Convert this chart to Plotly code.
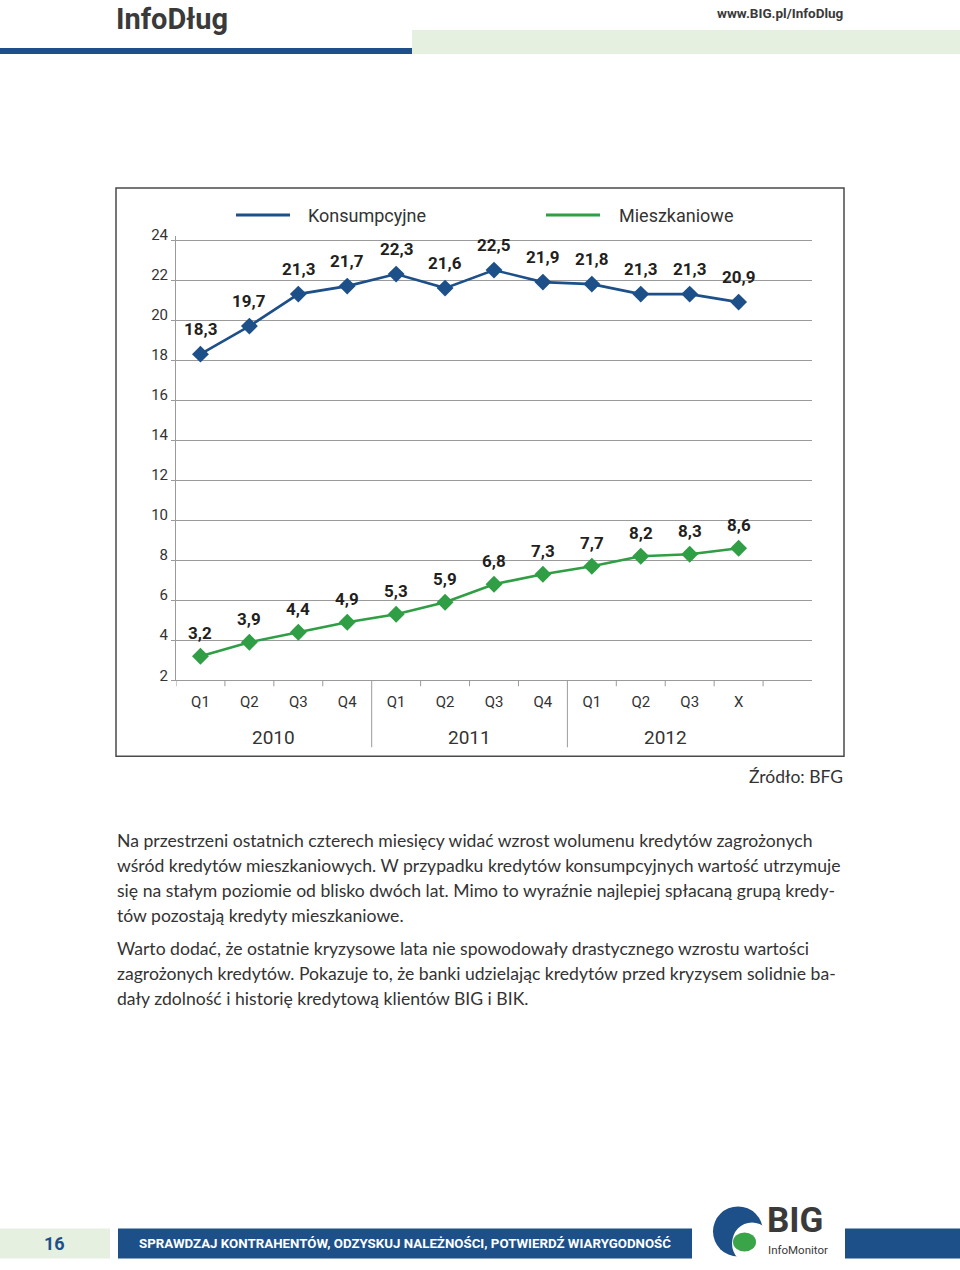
import plotly.graph_objects as go

# ---------------- data ----------------
quarters = ["Q1", "Q2", "Q3", "Q4", "Q1", "Q2", "Q3", "Q4", "Q1", "Q2", "Q3", "X"]
years = ["2010", "2011", "2012"]
konsumpcyjne = [18.3, 19.7, 21.3, 21.7, 22.3, 21.6, 22.5, 21.9, 21.8, 21.3, 21.3, 20.9]
mieszkaniowe = [3.2, 3.9, 4.4, 4.9, 5.3, 5.9, 6.8, 7.3, 7.7, 8.2, 8.3, 8.6]
y_ticks = [2, 4, 6, 8, 10, 12, 14, 16, 18, 20, 22, 24]

paragraph1 = [
    "Na przestrzeni ostatnich czterech miesięcy widać wzrost wolumenu kredytów zagrożonych",
    "wśród kredytów mieszkaniowych. W przypadku kredytów konsumpcyjnych wartość utrzymuje",
    "się na stałym poziomie od blisko dwóch lat. Mimo to wyraźnie najlepiej spłacaną grupą kredy-",
    "tów pozostają kredyty mieszkaniowe.",
]
paragraph2 = [
    "Warto dodać, że ostatnie kryzysowe lata nie spowodowały drastycznego wzrostu wartości",
    "zagrożonych kredytów. Pokazuje to, że banki udzielając kredytów przed kryzysem solidnie ba-",
    "dały zdolność i historię kredytową klientów BIG i BIK.",
]

# ---------------- styling ----------------
W, H = 960, 1270
BLUE = "#1d4f88"
GREEN = "#2f9e44"
GRID = "#9a9a9a"
TXT = "#333333"
COND = "Roboto, Liberation Sans Narrow, sans-serif"
BODY = "Lato, Open Sans, sans-serif"
# vertical page-layout calibration (target pixel -> figure pixel)
V_OFF, V_SCALE = 10.0, 0.9886


def px(x):
    return x / W


def py(y):
    return 1 - ((y - V_OFF) / V_SCALE) / H


x_idx = list(range(len(quarters)))

fig = go.Figure()
fig.add_trace(go.Scatter(
    x=x_idx, y=konsumpcyjne, mode="lines+markers", name="Konsumpcyjne",
    line=dict(color=BLUE, width=2.6),
    marker=dict(symbol="diamond", size=13, color=BLUE),
    showlegend=False, cliponaxis=False,
))
fig.add_trace(go.Scatter(
    x=x_idx, y=mieszkaniowe, mode="lines+markers", name="Mieszkaniowe",
    line=dict(color=GREEN, width=2.6),
    marker=dict(symbol="diamond", size=13, color=GREEN),
    showlegend=False, cliponaxis=False,
))

ann = []
shapes = []


def fmt(v):
    return "<b>" + f"{v:.1f}".replace(".", ",") + "</b>"


for i, v in enumerate(konsumpcyjne):
    ann.append(dict(x=i, y=v, xref="x", yref="y", text=fmt(v), showarrow=False,
                    yshift=25, font=dict(family=COND, size=17, color="#231f20"),
                    xanchor="center", yanchor="middle"))
for i, v in enumerate(mieszkaniowe):
    ann.append(dict(x=i, y=v, xref="x", yref="y", text=fmt(v), showarrow=False,
                    yshift=23, font=dict(family=COND, size=17, color="#231f20"),
                    xanchor="center", yanchor="middle"))

# category boundary ticks & year separators
for k in range(len(quarters) + 1):
    b = k - 0.5
    long = b in (3.5, 7.5)
    shapes.append(dict(type="line", xref="x", yref="paper", x0=b, x1=b,
                       y0=py(680), y1=py(747 if long else 686),
                       line=dict(color=GRID, width=1)))
for j, yr in enumerate(years):
    ann.append(dict(x=1.5 + 4 * j, y=py(737), xref="x", yref="paper", text=yr,
                    showarrow=False, font=dict(family=COND, size=19, color=TXT),
                    xanchor="center", yanchor="middle"))

# chart frame
shapes.append(dict(type="rect", xref="paper", yref="paper", x0=px(116), x1=px(844),
                   y0=py(756), y1=py(188), line=dict(color="#4a4a4a", width=1.5)))

# legend
shapes.append(dict(type="line", xref="paper", yref="paper", x0=px(236), x1=px(290),
                   y0=py(215), y1=py(215), line=dict(color=BLUE, width=3)))
shapes.append(dict(type="line", xref="paper", yref="paper", x0=px(546), x1=px(600),
                   y0=py(215), y1=py(215), line=dict(color=GREEN, width=3)))
ann.append(dict(x=px(306), y=py(215), xref="paper", yref="paper", text="Konsumpcyjne",
                showarrow=False, xanchor="left", yanchor="middle",
                font=dict(family=COND, size=18, color=TXT)))
ann.append(dict(x=px(617), y=py(215), xref="paper", yref="paper", text="Mieszkaniowe",
                showarrow=False, xanchor="left", yanchor="middle",
                font=dict(family=COND, size=18, color=TXT)))

# source
ann.append(dict(x=px(845), y=py(776), xref="paper", yref="paper", text="Źródło: BFG",
                showarrow=False, xanchor="right", yanchor="middle",
                font=dict(family=BODY, size=17.5, color=TXT)))

# body text
for k, line in enumerate(paragraph1):
    ann.append(dict(x=px(115), y=py(840 + 25 * k), xref="paper", yref="paper", text=line,
                    showarrow=False, xanchor="left", yanchor="middle",
                    font=dict(family=BODY, size=17.6, color=TXT)))
for k, line in enumerate(paragraph2):
    ann.append(dict(x=px(115), y=py(948 + 25 * k), xref="paper", yref="paper", text=line,
                    showarrow=False, xanchor="left", yanchor="middle",
                    font=dict(family=BODY, size=17.6, color=TXT)))

# header
ann.append(dict(x=px(114), y=py(19), xref="paper", yref="paper", text="<b>InfoDług</b>",
                showarrow=False, xanchor="left", yanchor="middle",
                font=dict(family=COND, size=29, color="#3a3a3a")))
ann.append(dict(x=px(845), y=py(13), xref="paper", yref="paper", text="<b>www.BIG.pl/InfoDlug</b>",
                showarrow=False, xanchor="right", yanchor="middle",
                font=dict(family=COND, size=13.5, color="#3a3a3a")))
shapes.append(dict(type="rect", xref="paper", yref="paper", x0=px(412), x1=1,
                   y0=py(54), y1=py(30), fillcolor="#e6f0e1", line=dict(width=0), layer="below"))
shapes.append(dict(type="rect", xref="paper", yref="paper", x0=0, x1=px(412),
                   y0=py(54), y1=py(48), fillcolor=BLUE, line=dict(width=0)))

# footer
shapes.append(dict(type="rect", xref="paper", yref="paper", x0=0, x1=px(110),
                   y0=py(1258), y1=py(1228), fillcolor="#e6f0e1", line=dict(width=0)))
ann.append(dict(x=px(54), y=py(1243), xref="paper", yref="paper", text="<b>16</b>",
                showarrow=False, xanchor="center", yanchor="middle",
                font=dict(family=COND, size=18, color=BLUE)))
shapes.append(dict(type="rect", xref="paper", yref="paper", x0=px(118), x1=px(692),
                   y0=py(1258), y1=py(1228), fillcolor=BLUE, line=dict(width=0)))
ann.append(dict(x=px(405), y=py(1243), xref="paper", yref="paper",
                text="<b>SPRAWDZAJ KONTRAHENTÓW, ODZYSKUJ NALEŻNOŚCI, POTWIERDŹ WIARYGODNOŚĆ</b>",
                showarrow=False, xanchor="center", yanchor="middle",
                font=dict(family=COND, size=13.3, color="white")))
shapes.append(dict(type="rect", xref="paper", yref="paper", x0=px(845), x1=1,
                   y0=py(1258), y1=py(1228), fillcolor=BLUE, line=dict(width=0)))
# logo
shapes.append(dict(type="circle", xref="paper", yref="paper", x0=px(713), x1=px(763),
                   y0=py(1256), y1=py(1206), fillcolor=BLUE, line=dict(width=0)))
shapes.append(dict(type="circle", xref="paper", yref="paper", x0=px(732), x1=px(772),
                   y0=py(1264), y1=py(1222), fillcolor="white", line=dict(width=0)))
shapes.append(dict(type="circle", xref="paper", yref="paper", x0=px(733), x1=px(756),
                   y0=py(1251), y1=py(1232), fillcolor="#3aa548", line=dict(width=0)))
ann.append(dict(x=px(765), y=py(1220), xref="paper", yref="paper", text="<b>BIG</b>",
                showarrow=False, xanchor="left", yanchor="middle",
                font=dict(family=COND, size=35, color="#3a3a3a")))
ann.append(dict(x=px(766), y=py(1250), xref="paper", yref="paper", text="InfoMonitor",
                showarrow=False, xanchor="left", yanchor="middle",
                font=dict(family=COND, size=11.5, color="#3a3a3a")))

fig.update_layout(
    width=W, height=H, margin=dict(l=0, r=0, t=0, b=0),
    paper_bgcolor="white", plot_bgcolor="white",
    xaxis=dict(domain=[px(176), px(812)], range=[-0.5, 12.5], tickvals=x_idx,
               ticktext=quarters, showgrid=False, zeroline=False, showline=True,
               linecolor=GRID, linewidth=1, ticks="", ticklabelstandoff=8,
               tickfont=dict(family=COND, size=15, color=TXT)),
    yaxis=dict(domain=[py(680), py(236)], range=[2, 24.2], tickvals=y_ticks,
               showgrid=True, gridcolor=GRID, gridwidth=1, zeroline=False,
               showline=True, linecolor=GRID, linewidth=1, ticks="outside", ticklen=4,
               tickcolor=GRID, ticklabelshift=-5,
               tickfont=dict(family=COND, size=15, color=TXT)),
    annotations=ann, shapes=shapes,
)

fig.write_html("out.html", config={"displayModeBar": False},
               post_script="document.body.style.margin='0';")
